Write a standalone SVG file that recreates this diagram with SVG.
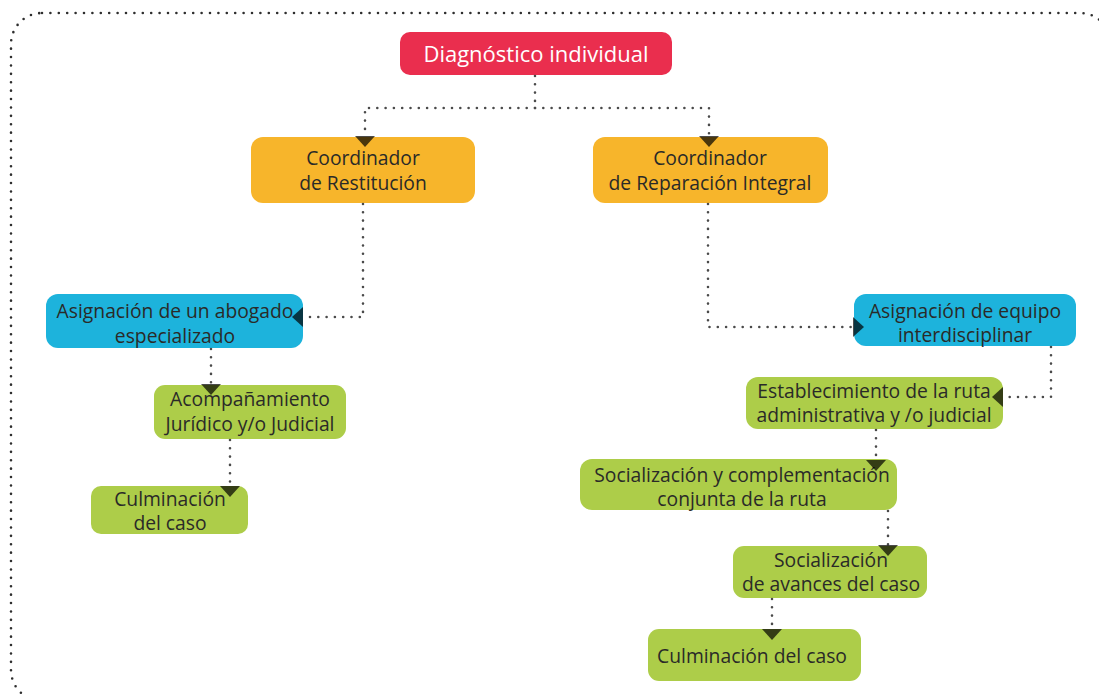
<svg xmlns="http://www.w3.org/2000/svg" width="1099" height="695" viewBox="0 0 1099 695">
<style>
.dot{fill:none;stroke:#4a4a4a;stroke-width:2.6;stroke-dasharray:0 8.3;stroke-linecap:round}
.border{fill:none;stroke:#2e2e2e;stroke-width:2.6;stroke-dasharray:0 8.4;stroke-linecap:round}
.t{font-family:"Open Sans","Noto Sans",sans-serif;font-size:19.3px;fill:#2a2a28;text-anchor:middle}
.red{fill:#EA2E4E}.org{fill:#F7B52B}.blu{fill:#1DB3DC}.grn{fill:#ADCD49}
</style>
<defs>
<marker id="ah" markerUnits="userSpaceOnUse" viewBox="0 0 11 20" refX="0" refY="10" markerWidth="11" markerHeight="20" orient="auto">
<path d="M0,0 L11,10 L0,20 Z" fill="#000" fill-opacity="0.7"/>
</marker>
</defs>
<rect class="border" x="11" y="13" width="1100" height="688" rx="31"/>
<g id="n-diag"><rect class="red" x="400" y="32" width="272" height="43" rx="10"/><text class="t" x="536" y="62" style="fill:#fff;font-size:22px">Diagnóstico individual</text></g>
<g id="n-coord-rest"><rect class="org" x="251" y="137" width="224" height="66" rx="12"/><text class="t" x="363" y="165">Coordinador</text><text class="t" x="363" y="190">de Restitución</text></g>
<g id="n-coord-rep"><rect class="org" x="593" y="137" width="235" height="66" rx="12"/><text class="t" x="710" y="165">Coordinador</text><text class="t" x="710" y="190">de Reparación Integral</text></g>
<g id="n-abogado"><rect class="blu" x="46" y="294" width="257" height="54" rx="12"/><text class="t" x="175" y="318">Asignación de un abogado</text><text class="t" x="175" y="343">especializado</text></g>
<g id="n-acomp"><rect class="grn" x="154" y="385" width="192" height="54" rx="11"/><text class="t" x="250" y="406">Acompañamiento</text><text class="t" x="250" y="431">Jurídico y/o Judicial</text></g>
<g id="n-culm1"><rect class="grn" x="91" y="486" width="157" height="48" rx="10"/><text class="t" x="170" y="506">Culminación</text><text class="t" x="170" y="530">del caso</text></g>
<g id="n-equipo"><rect class="blu" x="854" y="294" width="222" height="52" rx="12"/><text class="t" x="965" y="318">Asignación de equipo</text><text class="t" x="965" y="342">interdisciplinar</text></g>
<g id="n-estab"><rect class="grn" x="746" y="377" width="257" height="52" rx="12"/><text class="t" x="874" y="398">Establecimiento de la ruta</text><text class="t" x="874" y="422">administrativa y /o judicial</text></g>
<g id="n-social1"><rect class="grn" x="580" y="459" width="317" height="51" rx="12"/><text class="t" x="742" y="482">Socialización y complementación</text><text class="t" x="742" y="506">conjunta de la ruta</text></g>
<g id="n-social2"><rect class="grn" x="733" y="546" width="194" height="52" rx="11"/><text class="t" x="831" y="567">Socialización</text><text class="t" x="831" y="591">de avances del caso</text></g>
<g id="n-culm2"><rect class="grn" x="648" y="629" width="213" height="52" rx="11"/><text class="t" x="752" y="663">Culminación del caso</text></g>
<g id="connectors">
<path class="dot" d="M535,76 V108"/>
<path class="dot" d="M535,108 H365 V136" marker-end="url(#ah)"/>
<path class="dot" d="M535,108 H709 V136" marker-end="url(#ah)"/>
<path class="dot" d="M363,204 V317 H303" marker-end="url(#ah)"/>
<path class="dot" d="M211,349 V384" marker-end="url(#ah)"/>
<path class="dot" d="M230,440 V486" marker-end="url(#ah)"/>
<path class="dot" d="M708,204 V327 H853" marker-end="url(#ah)"/>
<path class="dot" d="M1051,347 V397 H1003" marker-end="url(#ah)"/>
<path class="dot" d="M876,430 V460" marker-end="url(#ah)"/>
<path class="dot" d="M888,511 V545" marker-end="url(#ah)"/>
<path class="dot" d="M772,599 V629" marker-end="url(#ah)"/>
</g>
</svg>
